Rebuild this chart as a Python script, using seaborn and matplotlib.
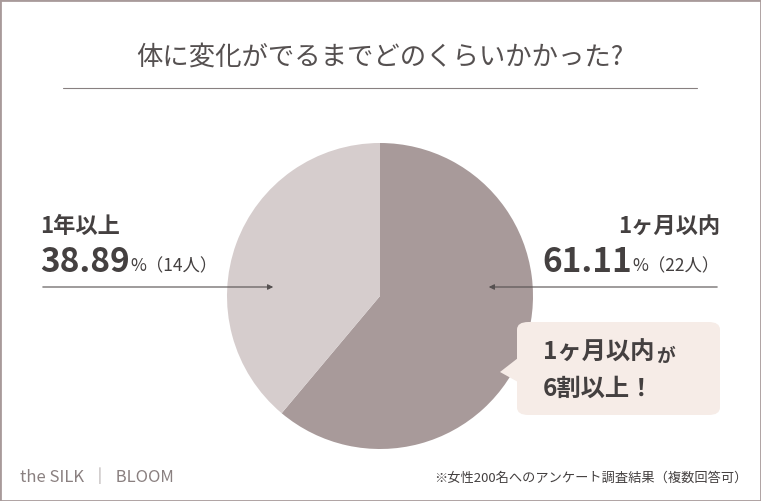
import matplotlib
matplotlib.use("Agg")
import matplotlib.pyplot as plt
import seaborn as sns
from matplotlib.patches import FancyBboxPatch, Polygon, Rectangle, FancyArrowPatch

sns.set_theme(style="white")
plt.rcParams['font.family'] = ['Noto Sans CJK JP', 'DejaVu Sans']

labels = ["1ヶ月以内", "1年以上"]
values = [61.11, 38.89]
counts = [22, 14]
colors = ["#a89a9a", "#d6cdcd"]
title = "体に変化がでるまでどのくらいかかった?"
note = "※女性200名へのアンケート調査結果（複数回答可）"

W, H = 761, 501
fig = plt.figure(figsize=(W/100, H/100), dpi=100)
fig.patch.set_facecolor("white")
def P(x, y):
    return x / W, 1 - y / H

txt = "#444040"
fig.patches.append(Rectangle((0, 0), 1, 1, transform=fig.transFigure, fill=False,
                             edgecolor="#a89a9a", lw=2))
fig.text(*P(380, 57), title, ha="center", va="center", fontsize=19, color="#555050")
fig.add_artist(plt.Line2D([63/W, 697/W], [1-88/H]*2, color="#888080", lw=0.8))

r = 153
ax = fig.add_axes([(380-r)/W, (H-296-r)/H, 2*r/W, 2*r/H])
ax.pie(values, colors=colors, startangle=90, counterclock=False,
       wedgeprops=dict(linewidth=0))
ax.set_xlim(-1, 1); ax.set_ylim(-1, 1)
ax.set_aspect("auto")
ax.axis("off")

fig.canvas.draw()
rend = fig.canvas.get_renderer()

# left label
fig.text(*P(40, 226), labels[1], ha="left", va="center", fontsize=16, fontweight="bold", color=txt)
n = fig.text(*P(40, 262), f"{values[1]:.2f}", ha="left", va="center", fontsize=24, fontweight="bold", color=txt)
x1 = n.get_window_extent(rend).x1
fig.text(x1/W + 1/W, 1-266/H, f"%（{counts[1]}人）", ha="left", va="center", fontsize=12.5, color=txt)
fig.add_artist(FancyArrowPatch(P(40, 287), P(276, 287), transform=fig.transFigure,
               arrowstyle="-|>", mutation_scale=8, color="#555050", lw=0.8))
# right label
fig.text(*P(720, 226), labels[0], ha="right", va="center", fontsize=16, fontweight="bold", color=txt)
s = fig.text(*P(720, 266), f"%（{counts[0]}人）", ha="right", va="center", fontsize=12.5, color=txt)
x0 = s.get_window_extent(rend).x0
fig.text(x0/W - 1/W, 1-262/H, f"{values[0]:.2f}", ha="right", va="center", fontsize=24, fontweight="bold", color=txt)
fig.add_artist(FancyArrowPatch(P(720, 287), P(486, 287), transform=fig.transFigure,
               arrowstyle="-|>", mutation_scale=8, color="#555050", lw=0.8))

# callout
box = FancyBboxPatch(P(517, 415), 203/W, 93/H, boxstyle="round,pad=0,rounding_size=0.015",
                     transform=fig.transFigure, facecolor="#f6ece7", edgecolor="none")
fig.patches.append(box)
fig.patches.append(Polygon([P(518, 358), P(500, 372), P(518, 382)], closed=True,
                           transform=fig.transFigure, facecolor="#f6ece7", edgecolor="none"))
m = fig.text(*P(543, 353), "1ヶ月以内", ha="left", va="center", fontsize=17.5, fontweight="bold", color=txt)
mx = m.get_window_extent(rend).x1
fig.text(mx/W + 2/W, 1-356/H, "が", ha="left", va="center", fontsize=13.5, fontweight="bold", color=txt)
fig.text(*P(543, 389), "6割以上！", ha="left", va="center", fontsize=17.5, fontweight="bold", color=txt)

fig.text(*P(20, 478), "the SILK  │  BLOOM", ha="left", va="center", fontsize=12, color="#8a8080")
fig.text(*P(748, 478), note, ha="right", va="center", fontsize=9.5, color=txt)

fig.savefig("out.png", dpi=100)
